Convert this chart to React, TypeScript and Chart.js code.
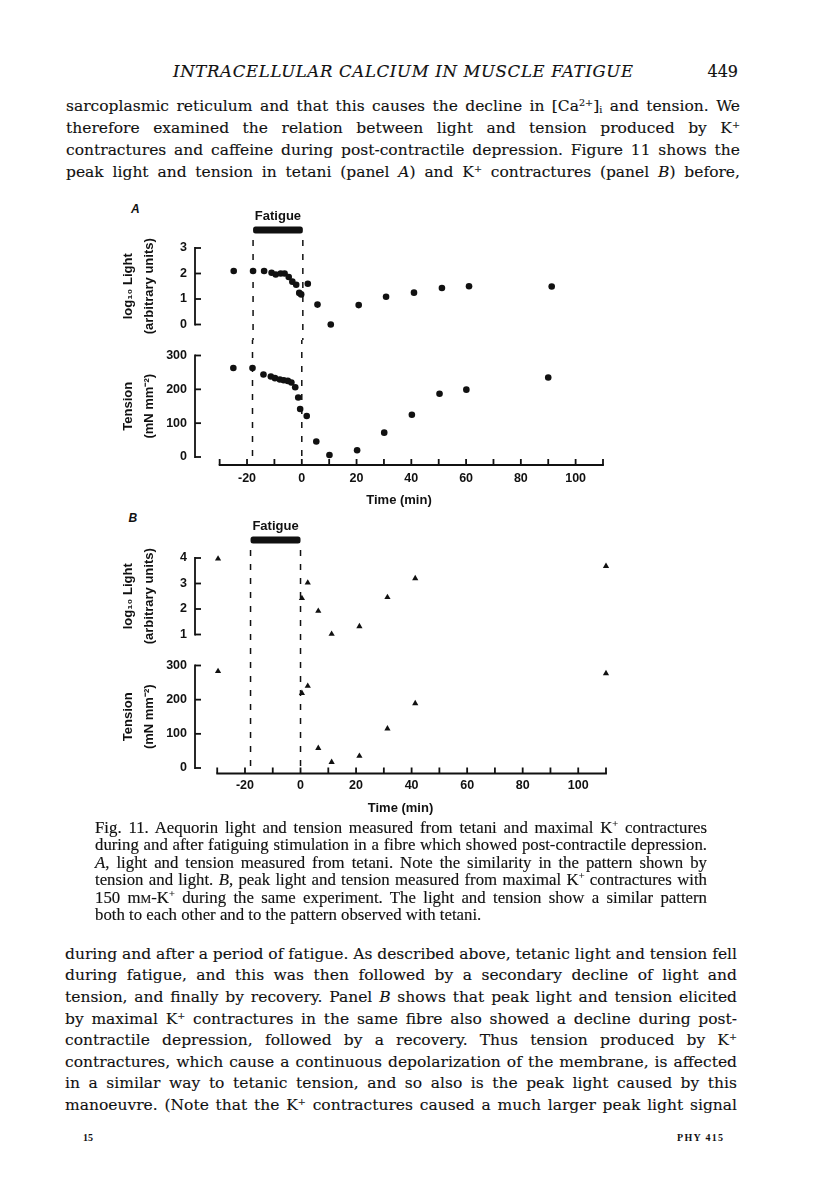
import React, { useEffect, useLayoutEffect, useRef } from "react";
import { Chart, registerables } from "chart.js";

Chart.register(...registerables);

// ---------------- data ----------------
const timeA = [-25, -18, -14, -11.3, -9.8, -8, -6.6, -5.1, -3.8, -2.4, -1.3, -0.6, 1.8, 5.3, 10.1, 20.2, 30.1, 40.2, 50.3, 60.1, 90];
const lightA = [2.1, 2.1, 2.1, 2.03, 1.96, 2.0, 2.0, 1.86, 1.68, 1.56, 1.24, 1.18, 1.6, 0.78, 0.0, 0.76, 1.09, 1.25, 1.43, 1.5, 1.49];
const tensionA = [263, 263, 244, 238, 233, 229, 227, 225, 220, 206, 176, 142, 121, 46, 6, 20, 72, 125, 187, 199, 235];

const timeB = [-29.7, 0.5, 2.6, 6.4, 11.2, 21.2, 31.3, 41.3, 110];
const lightB = [3.97, 2.42, 3.03, 1.92, 1.02, 1.32, 2.46, 3.2, 3.68];
const tensionB = [283, 219, 240, 58, 17, 35, 115, 189, 277];

const fatiguePeriod = [-18, 0];
const fatigueLabel = "Fatigue";

const xTickValues = [-30, -20, -10, 0, 10, 20, 30, 40, 50, 60, 70, 80, 90, 100, 110];
const xTickLabels = [-20, 0, 20, 40, 60, 80, 100];
const xTitle = "Time (min)";
const lightTicksA = [0, 1, 2, 3];
const lightTicksB = [1, 2, 3, 4];
const tensionTicks = [0, 100, 200, 300];
const lightTitle = ["log\u2081\u2080 Light", "(arbitrary units)"];
const tensionTitle = ["Tension", "(mN mm\u207B\u00B2)"];

const headerTitle = "INTRACELLULAR CALCIUM IN MUSCLE FATIGUE";
const pageNumber = "449";
const topParagraph = [
  "sarcoplasmic reticulum and that this causes the decline in [Ca^{2+}]_{i} and tension. We",
  "therefore examined the relation between light and tension produced by K^{+}",
  "contractures and caffeine during post-contractile depression. Figure 11 shows the",
  "peak light and tension in tetani (panel *A*) and K^{+} contractures (panel *B*) before,",
];
const captionLines = [
  "Fig. 11. Aequorin light and tension measured from tetani and maximal K^{+} contractures",
  "during and after fatiguing stimulation in a fibre which showed post-contractile depression.",
  "*A*, light and tension measured from tetani. Note the similarity in the pattern shown by",
  "tension and light. *B*, peak light and tension measured from maximal K^{+} contractures with",
  "150 m~{m}-K^{+} during the same experiment. The light and tension show a similar pattern",
  "both to each other and to the pattern observed with tetani.",
];
const bottomParagraph = [
  "during and after a period of fatigue. As described above, tetanic light and tension fell",
  "during fatigue, and this was then followed by a secondary decline of light and",
  "tension, and finally by recovery. Panel *B* shows that peak light and tension elicited",
  "by maximal K^{+} contractures in the same fibre also showed a decline during post-",
  "contractile depression, followed by a recovery. Thus tension produced by K^{+}",
  "contractures, which cause a continuous depolarization of the membrane, is affected",
  "in a similar way to tetanic tension, and so also is the peak light caused by this",
  "manoeuvre. (Note that the K^{+} contractures caused a much larger peak light signal",
];
const footerLeft = "15";
const footerRight = "PHY 415";
const panelLetters = ["A", "B"];

// ---------------- styling ----------------
const INK = "#111";
const FIG_FONT = "'Liberation Sans', Arial, Helvetica, sans-serif";
const BODY_FONT = "'DejaVu Serif', 'Liberation Serif', serif";
const CAPTION_FONT = "'Liberation Serif', 'DejaVu Serif', serif";

Chart.defaults.font.family = FIG_FONT;
Chart.defaults.color = INK;

// ---------------- rich text ----------------
const supStyle: React.CSSProperties = { fontSize: "0.62em", verticalAlign: "0.55em", lineHeight: 0 };
const subStyle: React.CSSProperties = { fontSize: "0.62em", verticalAlign: "-0.25em", lineHeight: 0 };

function rich(s: string): React.ReactNode[] {
  const out: React.ReactNode[] = [];
  let buf = "";
  let key = 0;
  let i = 0;
  const flush = () => {
    if (buf) {
      out.push(buf);
      buf = "";
    }
  };
  while (i < s.length) {
    const c = s[i];
    if ((c === "^" || c === "_" || c === "~") && s[i + 1] === "{") {
      const end = s.indexOf("}", i + 2);
      const inner = s.slice(i + 2, end);
      flush();
      if (c === "^") out.push(<span key={key++} style={supStyle}>{inner}</span>);
      else if (c === "_") out.push(<span key={key++} style={subStyle}>{inner}</span>);
      else out.push(<span key={key++} style={{ fontVariant: "small-caps" }}>{inner}</span>);
      i = end + 1;
      continue;
    }
    if (c === "*") {
      const end = s.indexOf("*", i + 1);
      flush();
      out.push(<i key={key++}>{s.slice(i + 1, end)}</i>);
      i = end + 1;
      continue;
    }
    buf += c;
    i++;
  }
  flush();
  return out;
}

type TextLineProps = {
  text: string;
  x?: number;
  right?: number;
  y: number;
  width?: number;
  family: string;
  size: number;
  italic?: boolean;
  bold?: boolean;
  justify?: "word" | "letter";
  ratio: number;
  stroke?: number;
};

function TextLine(props: TextLineProps) {
  const { text, x, right, y, width, family, size, italic, bold, justify, ratio, stroke } = props;
  const ref = useRef<HTMLSpanElement>(null);
  useLayoutEffect(() => {
    const el = ref.current;
    if (!el || !width || !justify) return;
    el.style.wordSpacing = "0px";
    el.style.letterSpacing = "0px";
    const w = el.getBoundingClientRect().width;
    const content = el.textContent || "";
    if (justify === "letter") {
      const n = Math.max(1, content.length - 1);
      el.style.letterSpacing = `${(width - w) / n}px`;
    } else {
      const n = (content.match(/ /g) || []).length;
      if (n > 0) el.style.wordSpacing = `${(width - w) / n}px`;
    }
  }, [text, width, justify]);
  const style: any = {
    position: "absolute",
    top: y - ratio * size,
    whiteSpace: "nowrap",
    fontFamily: family,
    fontSize: size,
    lineHeight: 1,
    fontStyle: italic ? "italic" : "normal",
    fontWeight: bold ? 700 : 400,
    color: INK,
  };
  if (stroke) {
    style.WebkitTextStroke = `${stroke}px ${INK}`;
  }
  if (right !== undefined) style.right = 816 - right;
  else style.left = x;
  return (
    <div style={style}>
      <span ref={ref}>{rich(text)}</span>
    </div>
  );
}

// ---------------- charts ----------------
type XAxisCfg = { height: number; lineOffset: number; tickPadding: number; titlePad: number };
type PanelCfg = {
  key: string;
  left: number;
  top: number;
  width: number;
  height: number;
  pad: { top: number; bottom: number; right: number };
  xMin: number;
  yMin: number;
  yMax: number;
  yTicks: number[];
  xs: number[];
  ys: number[];
  pointStyle: "circle" | "triangle";
  radius: number;
  yTitle: string[];
  bar: boolean;
  dashTop: number;
  dashPhase: number;
  xAxis?: XAxisCfg;
};

const panels: PanelCfg[] = [
  {
    key: "lightA", left: 115, top: 200, width: 502, height: 140,
    pad: { top: 48, bottom: 8, right: 10 }, xMin: -39, yMin: 0, yMax: 3, yTicks: lightTicksA,
    xs: timeA, ys: lightA, pointStyle: "circle", radius: 3.3, yTitle: lightTitle,
    bar: true, dashTop: 40, dashPhase: 0,
  },
  {
    key: "tensionA", left: 115, top: 340, width: 502, height: 172,
    pad: { top: 7, bottom: 0, right: 10 }, xMin: -39, yMin: 0, yMax: 300, yTicks: tensionTicks,
    xs: timeA, ys: tensionA, pointStyle: "circle", radius: 3.3, yTitle: tensionTitle,
    bar: false, dashTop: 0, dashPhase: 2,
    xAxis: { height: 55, lineOffset: 8, tickPadding: 14, titlePad: 4 },
  },
  {
    key: "lightB", left: 115, top: 510, width: 502, height: 140,
    pad: { top: 48, bottom: 8, right: 11 }, xMin: -38, yMin: 1, yMax: 4, yTicks: lightTicksB,
    xs: timeB, ys: lightB, pointStyle: "triangle", radius: 3.6, yTitle: lightTitle,
    bar: true, dashTop: 40, dashPhase: 0,
  },
  {
    key: "tensionB", left: 115, top: 650, width: 502, height: 173,
    pad: { top: 9, bottom: 0, right: 11 }, xMin: -38, yMin: 0, yMax: 300, yTicks: tensionTicks,
    xs: timeB, ys: tensionB, pointStyle: "triangle", radius: 3.6, yTitle: tensionTitle,
    bar: false, dashTop: 0, dashPhase: 2,
    xAxis: { height: 55, lineOffset: 5.5, tickPadding: 10.5, titlePad: 7 },
  },
];

function makeDecor(p: PanelCfg) {
  return {
    id: "decor_" + p.key,
    afterDraw(chart: any) {
      const ctx: CanvasRenderingContext2D = chart.ctx;
      const ca = chart.chartArea;
      const xs = chart.scales.x;
      const ys = chart.scales.y;
      ctx.save();
      ctx.strokeStyle = INK;
      ctx.fillStyle = INK;
      ctx.lineWidth = 1.8;
      // y axis bracket with inward ticks
      const yT = ys.getPixelForValue(p.yMax);
      const yB = ys.getPixelForValue(p.yMin);
      ctx.beginPath();
      ctx.moveTo(ca.left, yT - 0.9);
      ctx.lineTo(ca.left, yB + 0.9);
      ctx.stroke();
      for (const t of ys.ticks) {
        const py = ys.getPixelForValue(t.value);
        ctx.beginPath();
        ctx.moveTo(ca.left, py);
        ctx.lineTo(ca.left + 6, py);
        ctx.stroke();
      }
      let dashBottom = chart.height;
      if (p.xAxis) {
        const ay = ca.bottom + p.xAxis.lineOffset;
        const x0 = xs.getPixelForValue(xTickValues[0]);
        const x1 = xs.getPixelForValue(xTickValues[xTickValues.length - 1]);
        ctx.beginPath();
        ctx.moveTo(x0 - 0.9, ay);
        ctx.lineTo(x1 + 0.9, ay);
        ctx.stroke();
        for (const t of xs.ticks) {
          const px = xs.getPixelForValue(t.value);
          ctx.beginPath();
          ctx.moveTo(px, ay);
          ctx.lineTo(px, ay - 6);
          ctx.stroke();
        }
        dashBottom = ay;
      }
      // dashed fatigue boundaries
      ctx.lineWidth = 1.5;
      ctx.setLineDash([6, 8]);
      ctx.lineDashOffset = p.dashPhase;
      for (const v of fatiguePeriod) {
        const px = xs.getPixelForValue(v);
        ctx.beginPath();
        ctx.moveTo(px, p.dashTop);
        ctx.lineTo(px, dashBottom);
        ctx.stroke();
      }
      ctx.setLineDash([]);
      if (p.bar) {
        const xa = xs.getPixelForValue(fatiguePeriod[0]);
        const xb = xs.getPixelForValue(fatiguePeriod[1]);
        ctx.beginPath();
        if ((ctx as any).roundRect) (ctx as any).roundRect(xa, 26.5, xb - xa, 7, 2.5);
        else ctx.rect(xa, 26.5, xb - xa, 7);
        ctx.fill();
        ctx.font = `bold 13px ${FIG_FONT}`;
        ctx.textAlign = "center";
        ctx.textBaseline = "middle";
        ctx.fillText(fatigueLabel, (xa + xb) / 2, 16.5);
      }
      ctx.restore();
    },
  };
}

function buildConfig(p: PanelCfg): any {
  const xa = p.xAxis;
  return {
    type: "scatter",
    data: {
      datasets: [
        {
          data: p.xs.map((x, i) => ({ x, y: p.ys[i] })),
          pointStyle: p.pointStyle,
          pointRadius: p.radius,
          pointBorderWidth: 0,
          backgroundColor: INK,
          borderColor: INK,
          showLine: false,
          clip: false,
        },
      ],
    },
    options: {
      animation: false,
      responsive: false,
      maintainAspectRatio: false,
      devicePixelRatio: 1,
      events: [],
      layout: { padding: { top: p.pad.top, bottom: p.pad.bottom, left: 0, right: p.pad.right } },
      plugins: { legend: { display: false }, tooltip: { enabled: false }, title: { display: false } },
      scales: {
        x: {
          type: "linear",
          min: p.xMin,
          max: xTickValues[xTickValues.length - 1],
          display: !!xa,
          afterBuildTicks: (s: any) => {
            s.ticks = xTickValues.map((v) => ({ value: v }));
          },
          afterFit: (s: any) => {
            if (xa) s.height = xa.height;
          },
          grid: { display: false, drawTicks: false },
          border: { display: false },
          ticks: {
            autoSkip: false,
            maxRotation: 0,
            minRotation: 0,
            padding: xa ? xa.tickPadding : 0,
            color: INK,
            font: { size: 12.5, weight: "bold", family: FIG_FONT },
            callback: (v: any) => (xTickLabels.includes(Number(v)) ? String(v) : ""),
          },
          title: {
            display: !!xa,
            text: xTitle,
            color: INK,
            font: { size: 13, weight: "bold", family: FIG_FONT, lineHeight: 1.2 },
            padding: { top: 0, bottom: xa ? xa.titlePad : 0 },
          },
        },
        y: {
          type: "linear",
          min: p.yMin,
          max: p.yMax,
          afterBuildTicks: (s: any) => {
            s.ticks = p.yTicks.map((v) => ({ value: v }));
          },
          afterFit: (s: any) => {
            s.width = 80;
          },
          grid: { display: false, drawTicks: false },
          border: { display: false },
          ticks: {
            padding: 8,
            color: INK,
            font: { size: 12.5, weight: "bold", family: FIG_FONT },
            callback: (v: any) => String(v),
          },
          title: {
            display: true,
            text: p.yTitle,
            color: INK,
            font: { size: 13, weight: "bold", family: FIG_FONT, lineHeight: 1.6 },
            padding: { top: 3, bottom: 0 },
          },
        },
      },
    },
    plugins: [makeDecor(p)],
  };
}

function PanelChart({ p }: { p: PanelCfg }) {
  const ref = useRef<HTMLCanvasElement>(null);
  useEffect(() => {
    const c = ref.current;
    if (!c) return;
    const chart = new Chart(c, buildConfig(p));
    return () => chart.destroy();
  }, [p]);
  return (
    <canvas
      ref={ref}
      width={p.width}
      height={p.height}
      style={{ position: "absolute", left: p.left, top: p.top, width: p.width, height: p.height }}
    />
  );
}

// ---------------- page ----------------
export default function App() {
  return (
    <div style={{ position: "relative", width: 816, height: 1203, overflow: "hidden", background: "#fff" }}>
      <style>{`html,body{margin:0;padding:0;background:#fff;}`}</style>

      <TextLine text={headerTitle} x={173} y={71.7} width={460} family={BODY_FONT} size={16.5} italic justify="letter" ratio={0.48} stroke={0.15} />
      <TextLine text={pageNumber} right={738} y={71.7} family={BODY_FONT} size={16} ratio={0.48} stroke={0.15} />

      {topParagraph.map((t, i) => (
        <TextLine key={"t" + i} text={t} x={66} y={107.7 + i * 22.1} width={674} family={BODY_FONT} size={15.5} justify="word" ratio={0.59} stroke={0.12} />
      ))}

      <div style={{ position: "absolute", left: 131, top: 203, fontFamily: FIG_FONT, fontSize: 12, fontWeight: 700, fontStyle: "italic", lineHeight: 1, color: INK }}>
        {panelLetters[0]}
      </div>
      <div style={{ position: "absolute", left: 128.5, top: 512, fontFamily: FIG_FONT, fontSize: 12, fontWeight: 700, fontStyle: "italic", lineHeight: 1, color: INK }}>
        {panelLetters[1]}
      </div>

      {panels.map((p) => (
        <PanelChart key={p.key} p={p} />
      ))}

      {captionLines.map((t, i) => (
        <TextLine
          key={"c" + i}
          text={t}
          x={95}
          y={830 + i * 17.5}
          width={i < captionLines.length - 1 ? 612 : undefined}
          family={CAPTION_FONT}
          size={16.8}
          justify={i < captionLines.length - 1 ? "word" : undefined}
          ratio={0.6}
          stroke={0.15}
        />
      ))}

      {bottomParagraph.map((t, i) => (
        <TextLine key={"b" + i} text={t} x={65} y={956 + i * 21.6} width={672} family={BODY_FONT} size={15.5} justify="word" ratio={0.59} stroke={0.12} />
      ))}

      <TextLine text={footerLeft} x={83} y={1138} family={CAPTION_FONT} size={10} bold ratio={0.51} />
      <TextLine text={footerRight} x={677} y={1138} width={46} family={CAPTION_FONT} size={10} bold justify="letter" ratio={0.51} />
    </div>
  );
}
